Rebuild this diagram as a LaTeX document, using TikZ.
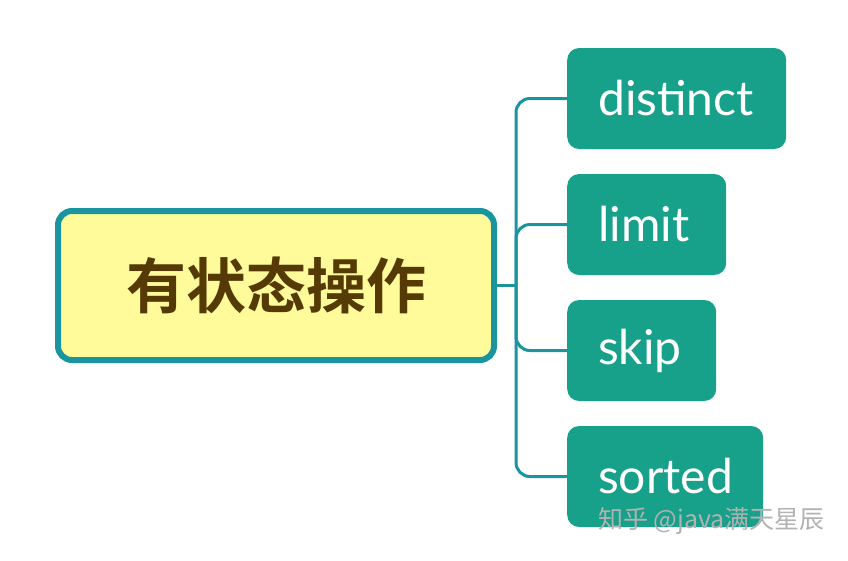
\documentclass[tikz,border=0pt]{standalone}
\usepackage{fontspec}
\setmainfont{Lato}
\newfontfamily\cjk{Noto Sans CJK SC}
\newfontfamily\cjkb{Noto Sans CJK SC Bold}
\definecolor{tealline}{HTML}{1A95A0}
\definecolor{tealbox}{HTML}{17A08A}
\definecolor{yellowfill}{HTML}{FFFB9A}
\definecolor{browntext}{HTML}{553A06}
\begin{document}
\begin{tikzpicture}[x=1pt,y=-1pt,
  root/.style={draw=tealline, line width=6pt, fill=yellowfill, rounded corners=14pt,
    minimum width=436pt, minimum height=149pt, inner sep=0pt,
    font=\cjkb\fontsize{60}{60}\selectfont, text=browntext},
  leaf/.style={fill=tealbox, rounded corners=12pt, minimum height=101pt, inner sep=0pt,
    anchor=west, align=left, font=\fontsize{48}{48}\selectfont, text=white},
  conn/.style={draw=tealline, line width=3pt, rounded corners=14pt}]
\useasboundingbox (0,0) rectangle (848,560);
\fill[white] (0,0) rectangle (848,560);
\node[root] (main) at (276,285.5) {有状态操作};
\node[leaf, text width=219pt] (d) at (567,98.5) {\hspace*{31pt}distinct};
\node[leaf, text width=159pt] (l) at (567,224.5) {\hspace*{31pt}limit};
\node[leaf, text width=149pt] (s) at (567,350.5) {\hspace*{31pt}skip};
\node[leaf, text width=196pt] (o) at (567,476.5) {\hspace*{31pt}sorted};
\coordinate (j) at (516,285.5);
\draw[conn] (main.east) -- (j);
\draw[conn] (d.west) -| (j) |- (o.west);
\draw[conn] (l.west) -| (j);
\draw[conn] (s.west) -| (j);
\node[anchor=west, font=\cjk\fontsize{25}{25}\selectfont, text=gray!60, inner sep=0pt] (wm) at (598,521) {知乎 @java满天星辰};
\end{tikzpicture}
\end{document}
